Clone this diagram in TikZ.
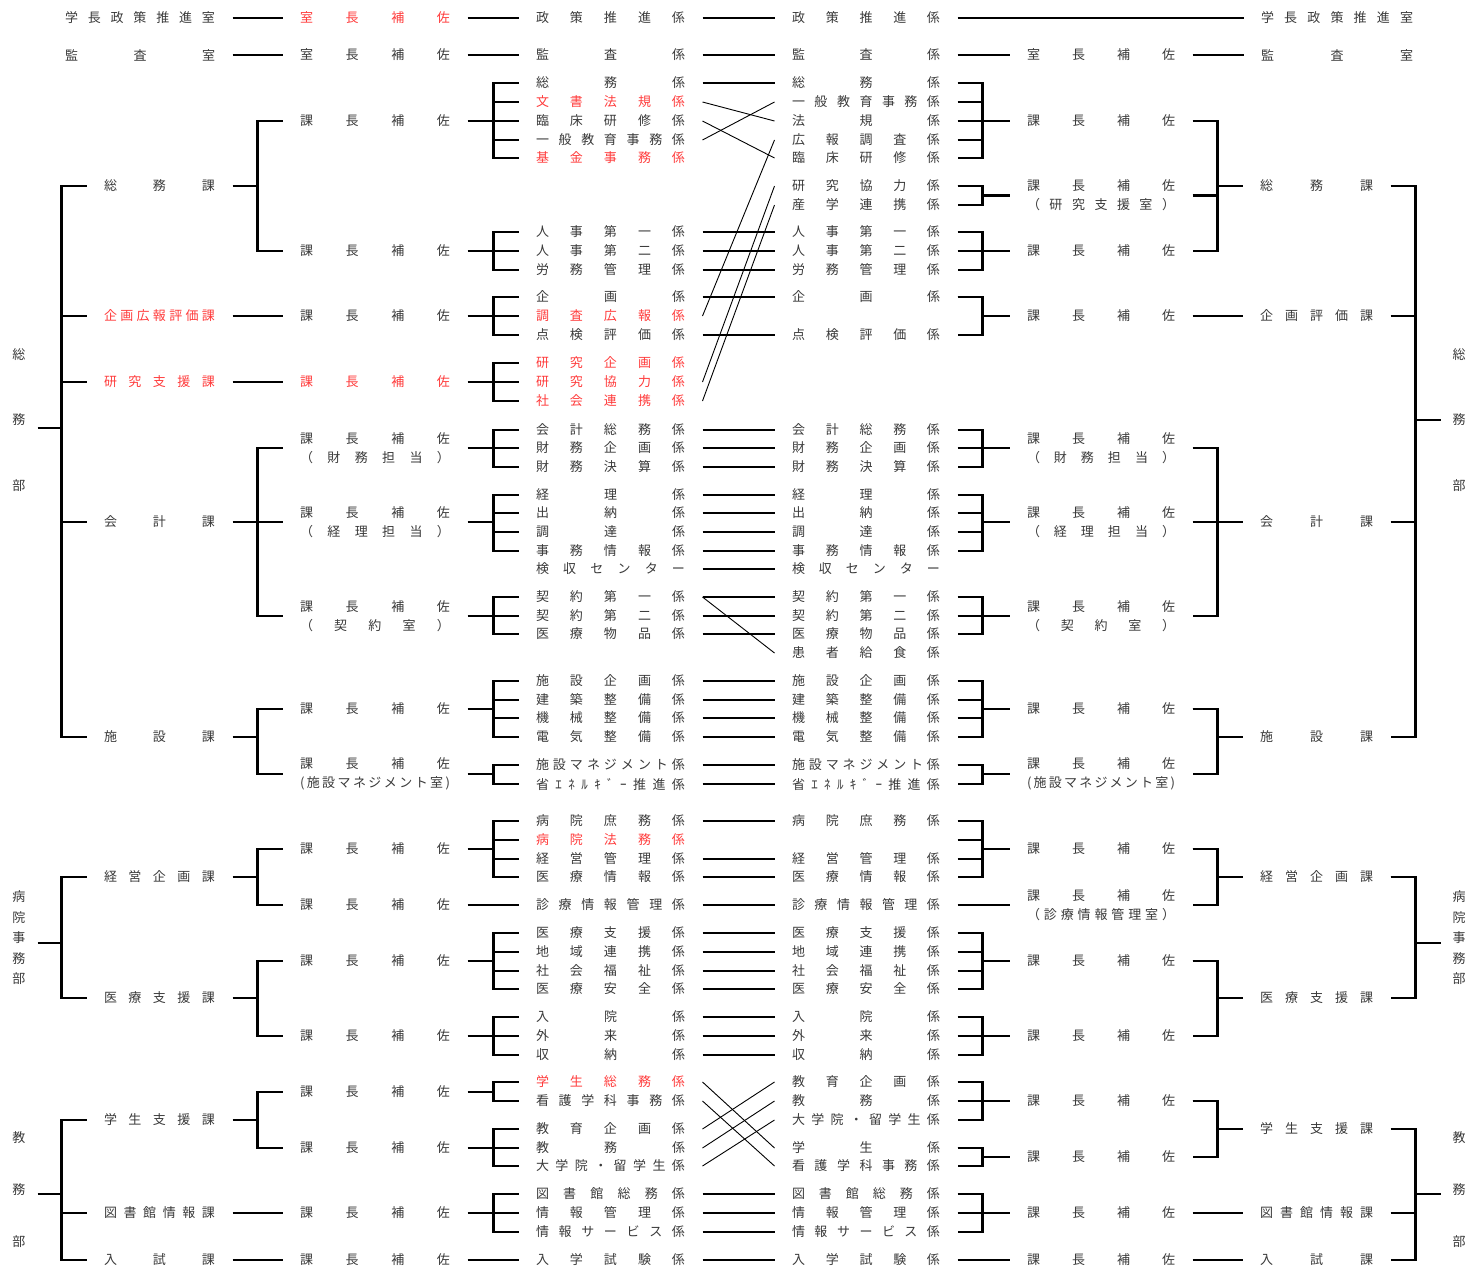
\documentclass[tikz,border=0pt]{standalone}
\usepackage{fontspec}
\newfontfamily\jfont{Noto Sans CJK JP}
\definecolor{tx}{HTML}{3A3A3A}
\definecolor{rd}{HTML}{FF3C3C}
\makeatletter
\def\jw@end{\jw@end}
\def\jw@loop#1{\ifx\jw@end#1\else\hfill#1\expandafter\jw@loop\fi}
\def\jw@first#1{#1\jw@loop}
\newcommand\jw[2]{\makebox[#1pt][s]{\jw@first#2\jw@end}}
\makeatother
\tikzset{
  txt/.style={inner sep=0pt, outer xsep=17.5pt, outer ysep=0pt, text=tx,
    font=\jfont\fontsize{13}{19}\selectfont, align=center},
  rtx/.style={text=rd},
  dept/.style={txt, outer xsep=12pt, font=\jfont\fontsize{13}{#1}\selectfont},
  conn/.style={line width=2.4pt},
  dg/.style={line width=0.9pt},
}
\newcommand\LO[4][]{\node[txt,#1] (#2) at (140,#3) {\jw{150}{#4}};}
\newcommand\LK[4][]{\node[txt,#1] (#2) at (159.5,#3) {\jw{111}{#4}};}
\newcommand\LH[4][]{\node[txt,#1] (#2) at (375,#3) {\jw{150}{#4}};}
\newcommand\LHH[5][]{\node[txt,#1] (#2) at (375,#3) {\jw{150}{#4}\\\jw{150}{#5}};}
\newcommand\LG[4][]{\node[txt,#1] (#2) at (610.5,#3) {\jw{149}{#4}};}
\newcommand\RG[4][]{\node[txt,#1] (#2) at (866,#3) {\jw{148}{#4}};}
\newcommand\RH[4][]{\node[txt,#1] (#2) at (1101,#3) {\jw{148}{#4}};}
\newcommand\RHH[5][]{\node[txt,#1] (#2) at (1101,#3) {\jw{148}{#4}\\\jw{148}{#5}};}
\newcommand\RK[4][]{\node[txt,#1] (#2) at (1316.5,#3) {\jw{113}{#4}};}
\newcommand\RO[4][]{\node[txt,#1] (#2) at (1337,#3) {\jw{152}{#4}};}
% bracket: parent point, first kid, last kid, middle kids
\newcommand\BL[4]{%
  \draw[conn] (#2.west) -- ++(-25,0) coordinate (bk) -- (bk |- #3.west) -- (#3.west);
  \draw[conn] (#1) -- (#1 -| bk);
  \foreach \k in {#4} {\draw[conn] (\k.west) -- (\k.west -| bk);}}
\newcommand\BR[4]{%
  \draw[conn] (#2.east) -- ++(25,0) coordinate (bk) -- (bk |- #3.east) -- (#3.east);
  \draw[conn] (#1) -- (#1 -| bk);
  \foreach \k in {#4} {\draw[conn] (\k.east) -- (\k.east -| bk);}}
\newcommand\ML[2]{\draw[conn] (#1.east) -- (#1.east -| #2.west);}
\newcommand\DL[2]{\draw[dg] (#1.east) -- (#2.west);}
\begin{document}
\begin{tikzpicture}[x=1pt,y=-1pt]
\fill[white] (0,0) rectangle (1468,1269);
\useasboundingbox (0,0) rectangle (1468,1269);

% ---------- top rows ----------
\LO{oL18}{18}{学長政策推進室}
\LH[rtx]{hL18}{18}{室長補佐}
\LG{gL18}{18}{政策推進係}
\RG{gR18}{18}{政策推進係}
\RO{oR18}{18}{学長政策推進室}
\ML{oL18}{hL18}\ML{hL18}{gL18}\ML{gL18}{gR18}\ML{gR18}{oR18}

\LO{oL55}{55}{監査室}
\LH{hL55}{55}{室長補佐}
\LG{gL55}{55}{監査係}
\RG{gR55}{55}{監査係}
\RH{hR55}{55}{室長補佐}
\RO{oR55}{55}{監査室}
\ML{oL55}{hL55}\ML{hL55}{gL55}\ML{gL55}{gR55}\ML{gR55}{hR55}\ML{hR55}{oR55}

% ---------- 総務部 left ----------
\node[dept=65.5] (dL1) at (19,420) {総\\務\\部};
\path (dL1.east) ++(0,8) coordinate (dL1s);
\LK{kL186}{186}{総務課}
\LH{hL121}{121}{課長補佐}
\LG{gL83}{83}{総務係}
\LG[rtx]{gL102}{102}{文書法規係}
\LG{gL121}{121}{臨床研修係}
\LG{gL140}{140}{一般教育事務係}
\LG[rtx]{gL158}{158}{基金事務係}
\LH{hL251}{251}{課長補佐}
\LG{gL232}{232}{人事第一係}
\LG{gL251}{251}{人事第二係}
\LG{gL270}{270}{労務管理係}
\LK[rtx]{kL316}{316}{企画広報評価課}
\LH{hL316}{316}{課長補佐}
\LG{gL297}{297}{企画係}
\LG[rtx]{gL316}{316}{調査広報係}
\LG{gL335}{335}{点検評価係}
\LK[rtx]{kL382}{382}{研究支援課}
\LH[rtx]{hL382}{382}{課長補佐}
\LG[rtx]{gL363}{363}{研究企画係}
\LG[rtx]{gL382}{382}{研究協力係}
\LG[rtx]{gL401}{401}{社会連携係}
\LK{kL522}{522}{会計課}
\LHH{hL448}{448}{課長補佐}{（財務担当）}
\LG{gL430}{430}{会計総務係}
\LG{gL448}{448}{財務企画係}
\LG{gL467}{467}{財務決算係}
\LHH{hL522}{522}{課長補佐}{（経理担当）}
\LG{gL495}{495}{経理係}
\LG{gL513}{513}{出納係}
\LG{gL532}{532}{調達係}
\LG{gL551}{551}{事務情報係}
\LG{gL569}{569}{検収センター}
\LHH{hL616}{616}{課長補佐}{（契約室）}
\LG{gL597}{597}{契約第一係}
\LG{gL616}{616}{契約第二係}
\LG{gL634}{634}{医療物品係}
\LK{kL737}{737}{施設課}
\LH{hL709}{709}{課長補佐}
\LG{gL681}{681}{施設企画係}
\LG{gL700}{700}{建築整備係}
\LG{gL718}{718}{機械整備係}
\LG{gL737}{737}{電気整備係}
\LHH{hL774}{774}{課長補佐}{(施設マネジメント室)}
\LG{gL765}{765}{施設マネジメント係}
\LG{gL784}{784}{省ｴﾈﾙｷﾞｰ推進係}

\BL{dL1s}{kL186}{kL737}{kL316,kL382,kL522}
\BL{kL186.east}{hL121}{hL251}{hL121}
\BL{hL121.east}{gL83}{gL158}{gL102,gL121,gL140}
\BL{hL251.east}{gL232}{gL270}{gL251}
\ML{kL316}{hL316}
\BL{hL316.east}{gL297}{gL335}{gL316}
\ML{kL382}{hL382}
\BL{hL382.east}{gL363}{gL401}{gL382}
\BL{kL522.east}{hL448}{hL616}{hL522}
\BL{hL448.east}{gL430}{gL467}{gL448}
\BL{hL522.east}{gL495}{gL551}{gL513,gL532}
\BL{hL616.east}{gL597}{gL634}{gL616}
\BL{kL737.east}{hL709}{hL774}{hL709}
\BL{hL709.east}{gL681}{gL737}{gL700,gL718}
\BL{hL774.east}{gL765}{gL784}{gL765}

% ---------- 総務部 right ----------
\node[dept=65.5] (dR1) at (1459,420) {総\\務\\部};
\path (dR1.west) coordinate (dR1s);
\RG{gR83}{83}{総務係}
\RG{gR102}{102}{一般教育事務係}
\RG{gR121}{121}{法規係}
\RG{gR140}{140}{広報調査係}
\RG{gR158}{158}{臨床研修係}
\RH{hR121}{121}{課長補佐}
\RG{gR186}{186}{研究協力係}
\RG{gR205}{205}{産学連携係}
\RHH{hR195}{195.5}{課長補佐}{（研究支援室）}
\RG{gR232}{232}{人事第一係}
\RG{gR251}{251}{人事第二係}
\RG{gR270}{270}{労務管理係}
\RH{hR251}{251}{課長補佐}
\RK{kR186}{186}{総務課}
\RG{gR297}{297}{企画係}
\RG{gR335}{335}{点検評価係}
\RH{hR316}{316}{課長補佐}
\RK{kR316}{316}{企画評価課}
\RG{gR430}{430}{会計総務係}
\RG{gR448}{448}{財務企画係}
\RG{gR467}{467}{財務決算係}
\RHH{hR448}{448}{課長補佐}{（財務担当）}
\RG{gR495}{495}{経理係}
\RG{gR513}{513}{出納係}
\RG{gR532}{532}{調達係}
\RG{gR551}{551}{事務情報係}
\RHH{hR522}{522}{課長補佐}{（経理担当）}
\RG{gR569}{569}{検収センター}
\RG{gR597}{597}{契約第一係}
\RG{gR616}{616}{契約第二係}
\RG{gR634}{634}{医療物品係}
\RG{gR653}{653}{患者給食係}
\RHH{hR616}{616}{課長補佐}{（契約室）}
\RK{kR522}{522}{会計課}
\RG{gR681}{681}{施設企画係}
\RG{gR700}{700}{建築整備係}
\RG{gR718}{718}{機械整備係}
\RG{gR737}{737}{電気整備係}
\RH{hR709}{709}{課長補佐}
\RG{gR765}{765}{施設マネジメント係}
\RG{gR784}{784}{省ｴﾈﾙｷﾞｰ推進係}
\RHH{hR774}{774}{課長補佐}{(施設マネジメント室)}
\RK{kR737}{737}{施設課}

\BR{hR121.west}{gR83}{gR158}{gR102,gR121,gR140}
\BR{hR195.west}{gR186}{gR205}{gR186}
\BR{hR251.west}{gR232}{gR270}{gR251}
\BR{kR186.west}{hR121}{hR251}{hR195}
\BR{hR316.west}{gR297}{gR335}{gR297}
\ML{hR316}{kR316}
\BR{hR448.west}{gR430}{gR467}{gR448}
\BR{hR522.west}{gR495}{gR551}{gR513,gR532}
\BR{hR616.west}{gR597}{gR634}{gR616}
\BR{kR522.west}{hR448}{hR616}{hR522}
\BR{hR709.west}{gR681}{gR737}{gR700,gR718}
\BR{hR774.west}{gR765}{gR784}{gR765}
\BR{kR737.west}{hR709}{hR774}{hR709}
\BR{dR1s}{kR186}{kR737}{kR316,kR522}

% ---------- 総務部 middle ----------
\ML{gL83}{gR83}
\DL{gL102}{gR121}
\DL{gL121}{gR158}
\DL{gL140}{gR102}
\DL{gL316}{gR140}
\DL{gL382}{gR186}
\DL{gL401}{gR205}
\foreach \y in {232,251,270,297,335,430,448,467,495,513,532,551,569,597,616,634,681,700,718,737,765,784}
  {\ML{gL\y}{gR\y}}
\DL{gL597}{gR653}

% ---------- 病院事務部 left ----------
\node[dept=20.5] (dL2) at (19,938) {病\\院\\事\\務\\部};
\path (dL2.east) ++(0,5) coordinate (dL2s);
\LK{kL877}{877}{経営企画課}
\LH{hL849}{849}{課長補佐}
\LG{gL821}{821}{病院庶務係}
\LG[rtx]{gL840}{840}{病院法務係}
\LG{gL859}{859}{経営管理係}
\LG{gL877}{877}{医療情報係}
\LH{hL905}{905}{課長補佐}
\LG{gL905}{905}{診療情報管理係}
\LK{kL998}{998}{医療支援課}
\LH{hL961}{961}{課長補佐}
\LG{gL933}{933}{医療支援係}
\LG{gL952}{952}{地域連携係}
\LG{gL971}{971}{社会福祉係}
\LG{gL989}{989}{医療安全係}
\LH{hL1036}{1036}{課長補佐}
\LG{gL1017}{1017}{入院係}
\LG{gL1036}{1036}{外来係}
\LG{gL1055}{1055}{収納係}

\BL{dL2s}{kL877}{kL998}{kL877}
\BL{kL877.east}{hL849}{hL905}{hL849}
\BL{hL849.east}{gL821}{gL877}{gL840,gL859}
\ML{hL905}{gL905}
\BL{kL998.east}{hL961}{hL1036}{hL961}
\BL{hL961.east}{gL933}{gL989}{gL952,gL971}
\BL{hL1036.east}{gL1017}{gL1055}{gL1036}

% ---------- 病院事務部 right ----------
\node[dept=20.5] (dR2) at (1459,938) {病\\院\\事\\務\\部};
\path (dR2.west) ++(0,5) coordinate (dR2s);
\RG{gR821}{821}{病院庶務係}
\coordinate (R840) at (957.5,840);
\RG{gR859}{859}{経営管理係}
\RG{gR877}{877}{医療情報係}
\RH{hR849}{849}{課長補佐}
\RG{gR905}{905}{診療情報管理係}
\RHH{hR905}{905}{課長補佐}{（診療情報管理室）}
\RK{kR877}{877}{経営企画課}
\RG{gR933}{933}{医療支援係}
\RG{gR952}{952}{地域連携係}
\RG{gR971}{971}{社会福祉係}
\RG{gR989}{989}{医療安全係}
\RH{hR961}{961}{課長補佐}
\RG{gR1017}{1017}{入院係}
\RG{gR1036}{1036}{外来係}
\RG{gR1055}{1055}{収納係}
\RH{hR1036}{1036}{課長補佐}
\RK{kR998}{998}{医療支援課}

\BR{hR849.west}{gR821}{gR877}{gR859}
\draw[conn] (R840) -- (R840 -| bk);
\ML{gR905}{hR905}
\BR{kR877.west}{hR849}{hR905}{hR849}
\BR{hR961.west}{gR933}{gR989}{gR952,gR971}
\BR{hR1036.west}{gR1017}{gR1055}{gR1036}
\BR{kR998.west}{hR961}{hR1036}{hR961}
\BR{dR2s}{kR877}{kR998}{kR877}

\foreach \y in {821,859,877,905,933,952,971,989,1017,1036,1055}
  {\ML{gL\y}{gR\y}}

% ---------- 教務部 left ----------
\node[dept=52] (dL3) at (19,1190) {教\\務\\部};
\path (dL3.east) ++(0,4) coordinate (dL3s);
\LK{kL1120}{1120}{学生支援課}
\LH{hL1092}{1092}{課長補佐}
\LG[rtx]{gL1082}{1082}{学生総務係}
\LG{gL1101}{1101}{看護学科事務係}
\LH{hL1148}{1148}{課長補佐}
\LG{gL1129}{1129}{教育企画係}
\LG{gL1148}{1148}{教務係}
\LG{gL1166}{1166}{大学院・留学生係}
\LK{kL1213}{1213}{図書館情報課}
\LH{hL1213}{1213}{課長補佐}
\LG{gL1194}{1194}{図書館総務係}
\LG{gL1213}{1213}{情報管理係}
\LG{gL1232}{1232}{情報サービス係}
\LK{kL1260}{1260}{入試課}
\LH{hL1260}{1260}{課長補佐}
\LG{gL1260}{1260}{入学試験係}

\BL{dL3s}{kL1120}{kL1260}{kL1213}
\BL{kL1120.east}{hL1092}{hL1148}{hL1092}
\BL{hL1092.east}{gL1082}{gL1101}{gL1082}
\BL{hL1148.east}{gL1129}{gL1166}{gL1148}
\ML{kL1213}{hL1213}
\BL{hL1213.east}{gL1194}{gL1232}{gL1213}
\ML{kL1260}{hL1260}
\ML{hL1260}{gL1260}

% ---------- 教務部 right ----------
\node[dept=52] (dR3) at (1459,1190) {教\\務\\部};
\path (dR3.west) ++(0,4) coordinate (dR3s);
\RG{gR1082}{1082}{教育企画係}
\RG{gR1101}{1101}{教務係}
\RG{gR1120}{1120}{大学院・留学生係}
\RH{hR1101}{1101}{課長補佐}
\RG{gR1148}{1148}{学生係}
\RG{gR1166}{1166}{看護学科事務係}
\RH{hR1157}{1157}{課長補佐}
\RK{kR1129}{1129}{学生支援課}
\RG{gR1194}{1194}{図書館総務係}
\RG{gR1213}{1213}{情報管理係}
\RG{gR1232}{1232}{情報サービス係}
\RH{hR1213}{1213}{課長補佐}
\RK{kR1213}{1213}{図書館情報課}
\RG{gR1260}{1260}{入学試験係}
\RH{hR1260}{1260}{課長補佐}
\RK{kR1260}{1260}{入試課}

\BR{hR1101.west}{gR1082}{gR1120}{gR1101}
\BR{hR1157.west}{gR1148}{gR1166}{gR1148}
\BR{kR1129.west}{hR1101}{hR1157}{hR1101}
\BR{hR1213.west}{gR1194}{gR1232}{gR1213}
\ML{hR1213}{kR1213}
\ML{gR1260}{hR1260}
\ML{hR1260}{kR1260}
\BR{dR3s}{kR1129}{kR1260}{kR1213}

% ---------- 教務部 middle ----------
\DL{gL1082}{gR1148}
\DL{gL1101}{gR1166}
\DL{gL1129}{gR1082}
\DL{gL1148}{gR1101}
\DL{gL1166}{gR1120}
\foreach \y in {1194,1213,1232,1260}
  {\ML{gL\y}{gR\y}}
\end{tikzpicture}
\end{document}
